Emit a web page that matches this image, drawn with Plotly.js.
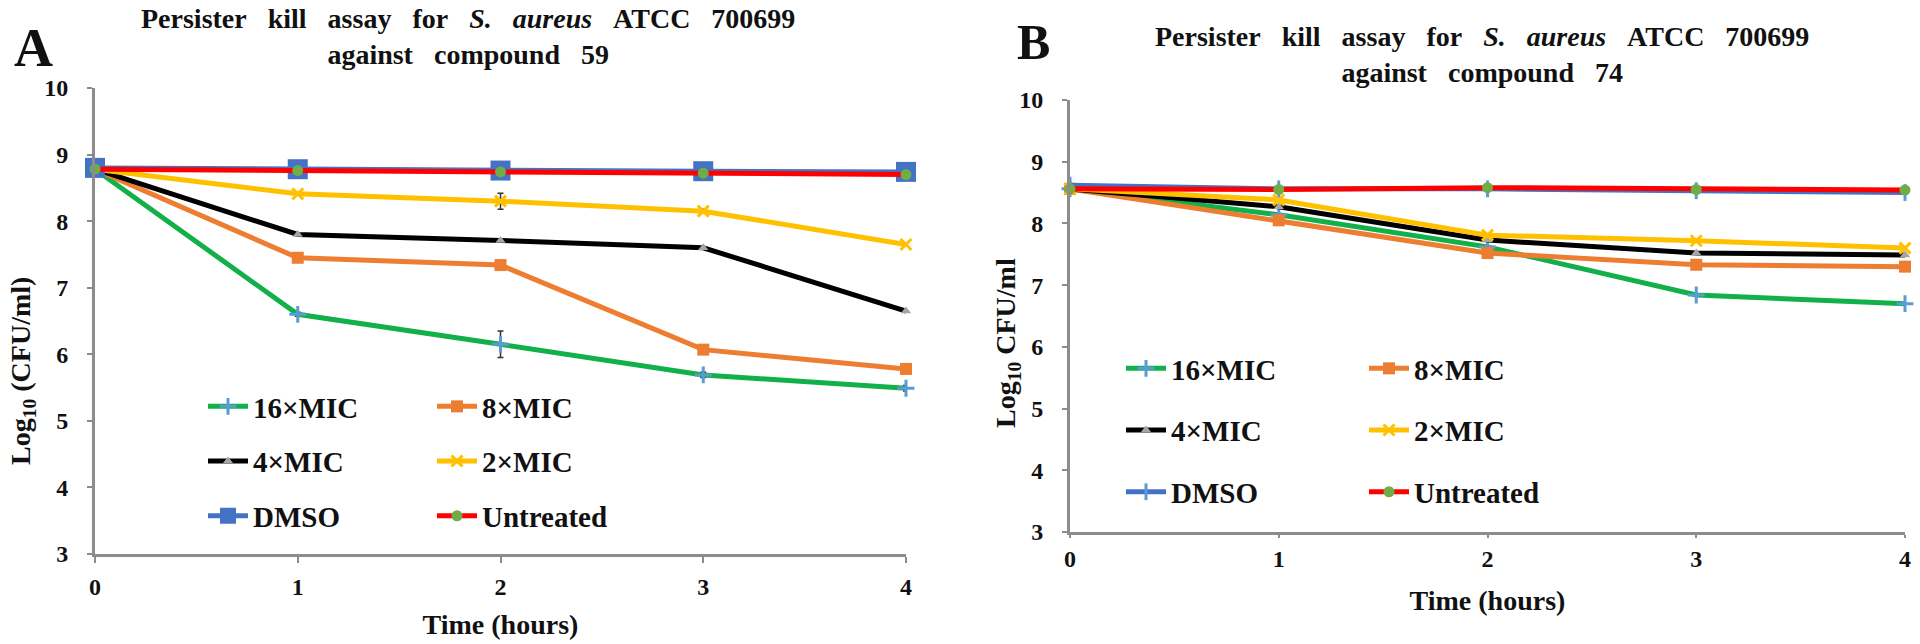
<!DOCTYPE html>
<html>
<head>
<meta charset="utf-8">
<script src="https://cdn.plot.ly/plotly-3.0.1.min.js"></script>
<style>
  html, body { margin: 0; padding: 0; background: #fff; }
  #plotArea { width: 1920px; height: 644px; }
</style>
</head>
<body>
<div id="plotArea"></div>
<script>
// time points (hours)
var hours = [0, 1, 2, 3, 4];

// panel A - compound 59 (log10 CFU/ml)
var a16 = [8.78, 6.60, 6.15, 5.69, 5.49];
var a8 = [8.78, 7.45, 7.34, 6.07, 5.78];
var a4 = [8.78, 7.80, 7.71, 7.60, 6.65];
var a2 = [8.78, 8.41, 8.30, 8.15, 7.65];
var aDmso = [8.80, 8.78, 8.76, 8.75, 8.74];
var aUntr = [8.78, 8.76, 8.74, 8.72, 8.70];
var a16Err = [0.02, 0.03, 0.20, 0.04, 0.04];
var a2Err = [0.02, 0.02, 0.12, 0.03, 0.02];

// panel B - compound 74
var b16 = [8.56, 8.14, 7.62, 6.84, 6.70];
var b8 = [8.56, 8.05, 7.52, 7.33, 7.30];
var b4 = [8.56, 8.27, 7.73, 7.52, 7.49];
var b2 = [8.56, 8.38, 7.81, 7.72, 7.60];
var bDmso = [8.62, 8.56, 8.56, 8.53, 8.50];
var bUntr = [8.56, 8.55, 8.58, 8.55, 8.54];

var names = ["16×MIC", "8×MIC", "4×MIC", "2×MIC", "DMSO", "Untreated"];

var green = "#12b04a", orange = "#ed7d31", yellow = "#ffc000",
    blue = "#4472c4", red = "#ff0000", gray = "#a5a5a5";

function series(name, y, xa, ya, leg, group, lineColor, marker, err) {
  var t = {
    x: hours, y: y, name: name, type: "scatter", mode: "lines+markers",
    xaxis: xa, yaxis: ya, legend: leg, legendgroup: group,
    line: {color: lineColor, width: 5}, marker: marker, cliponaxis: false
  };
  if (err) t.error_y = {type: "data", array: err, visible: true, color: "#333", thickness: 1.5, width: 3};
  return t;
}

var crossMk = {symbol: "cross-thin", size: 12, line: {color: "#5b9bd5", width: 3}};
var xMk = {symbol: "x-thin", size: 11, line: {color: yellow, width: 3}};
var sqMk = {symbol: "square", size: 12, color: orange};
var triMk = {symbol: "triangle-up", size: 9, color: gray};
var dotMk = {symbol: "circle", size: 11, color: "#70ad47"};

var data = [
  series(names[0], a16, "x", "y", "legend", "a1", green, crossMk, a16Err),
  series(names[1], a8, "x", "y", "legend2", "a2", orange, sqMk),
  series(names[2], a4, "x", "y", "legend", "a3", "#000", triMk),
  series(names[3], a2, "x", "y", "legend2", "a4", yellow, xMk, a2Err),
  series(names[4], aDmso, "x", "y", "legend", "a5", blue, {symbol: "square", size: 20, color: blue}),
  series(names[5], aUntr, "x", "y", "legend2", "a6", red, dotMk),

  series(names[0], b16, "x2", "y2", "legend3", "b1", green, crossMk),
  series(names[1], b8, "x2", "y2", "legend4", "b2", orange, sqMk),
  series(names[2], b4, "x2", "y2", "legend3", "b3", "#000", triMk),
  series(names[3], b2, "x2", "y2", "legend4", "b4", yellow, xMk),
  series(names[4], bDmso, "x2", "y2", "legend3", "b5", blue, {symbol: "line-ns", size: 12, line: {color: "#5b9bd5", width: 3}}),
  series(names[5], bUntr, "x2", "y2", "legend4", "b6", red, dotMk)
];

var serif = "Liberation Serif, Times New Roman, serif";
var tickF = {family: serif, size: 24, color: "#111", weight: "bold"};
var titleF = {family: serif, size: 28, color: "#111", weight: "bold"};
var axisLine = "#8c8c8c";

function xAxis(dom, anchor, labelGap, titleGap, tlen) {
  return {
    domain: dom, anchor: anchor, range: [0, 4], tickvals: hours, showgrid: false, zeroline: false,
    showline: true, linecolor: axisLine, linewidth: 3, ticks: "outside", ticklen: tlen, tickwidth: 2,
    tickcolor: axisLine, tickfont: tickF, ticklabelstandoff: labelGap,
    title: {text: "Time (hours)", font: titleF, standoff: titleGap}
  };
}
function yAxis(dom, anchor) {
  return {
    domain: dom, anchor: anchor, range: [3, 10], dtick: 1, showgrid: false, zeroline: false,
    showline: true, linecolor: axisLine, linewidth: 3, ticks: "outside", ticklen: 5, tickwidth: 2,
    tickcolor: axisLine, tickfont: tickF, ticklabelstandoff: 14
  };
}

function legendBox(x, y, gap) {
  return {
    x: x, y: y, xanchor: "left", yanchor: "top", orientation: "v", bgcolor: "rgba(0,0,0,0)",
    font: {family: serif, size: 29, color: "#111", weight: "bold"},
    itemwidth: 40, tracegroupgap: gap
  };
}

var sp = "\u00a0\u00a0\u00a0";
function titleText(n) {
  return ["Persister", "kill", "assay", "for", "<i>S." + sp + "aureus</i>", "ATCC", "700699"].join(sp) +
    "<br>" + ["against", "compound", n].join(sp);
}

function note(text, px, py, size, angle) {
  return {text: text, xref: "paper", yref: "paper", x: px / 1920, y: 1 - py / 644,
          xanchor: "center", yanchor: "middle", showarrow: false, textangle: angle || 0,
          font: {family: serif, size: size, color: "#111", weight: "bold"}};
}

var layout = {
  width: 1920, height: 644,
  margin: {l: 0, r: 0, t: 0, b: 0},
  paper_bgcolor: "#fff", plot_bgcolor: "#fff",
  showlegend: true,
  xaxis: xAxis([95 / 1920, 906 / 1920], "y", 3, 16, 6),
  yaxis: yAxis([90 / 644, 556 / 644], "x"),
  xaxis2: xAxis([1070 / 1920, 1905 / 1920], "y2", 0, 20, 3),
  yaxis2: yAxis([112 / 644, 544 / 644], "x2"),
  legend: legendBox(203 / 1920, 1 - 381 / 644, 14),
  legend2: legendBox(432 / 1920, 1 - 381 / 644, 14),
  legend3: legendBox(1121 / 1920, 1 - 343 / 644, 21),
  legend4: legendBox(1364 / 1920, 1 - 343 / 644, 21),
  annotations: [
    note("A", 33, 48, 54),
    note("B", 1033, 42, 50),
    note(titleText("59"), 468, 37, 28),
    note(titleText("74"), 1482, 55, 28),
    note("Log<sub>10</sub> (CFU/ml)", 22, 371, 28, -90),
    note("Log<sub>10</sub> CFU/ml", 1007, 343, 28, -90)
  ]
};

Plotly.newPlot("plotArea", data, layout, {staticPlot: true});
</script>
</body>
</html>
